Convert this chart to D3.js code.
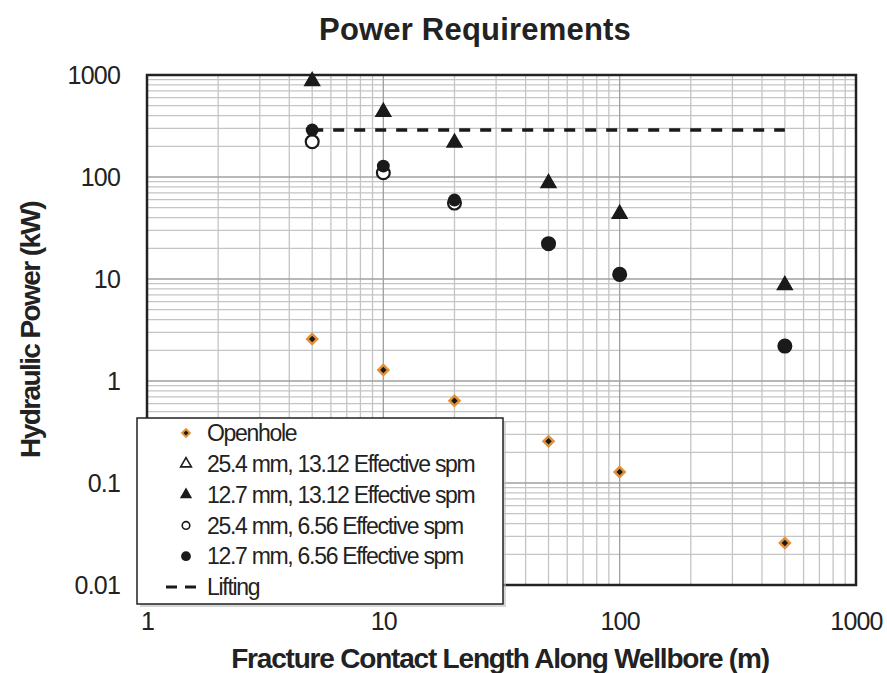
<!DOCTYPE html>
<html><head><meta charset="utf-8">
<script src="https://cdn.jsdelivr.net/npm/d3@7"></script>
<style>body{margin:0;background:#fff;} text{font-family:"Liberation Sans",Arial,sans-serif;}</style>
</head><body>
<svg id="c" width="887" height="673"></svg>
<script>
const lengths = [5, 10, 20, 50, 100, 500];
const openhole = [2.58, 1.28, 0.64, 0.257, 0.128, 0.0258];
const mm254_1312 = [870, 435, 217, 87, 43.5, 8.7];
const mm127_1312 = [870, 435, 217, 87, 43.5, 8.7];
const mm254_656 = [222, 110, 55.5, 22.2, 11.1, 2.2];
const mm127_656 = [289, 128, 59.5, 22.4, 11.1, 2.17];
const liftingX = [5, 500];
const liftingY = [289, 289];
const xTicks = [1, 10, 100, 1000];
const yTicks = [0.01, 0.1, 1, 10, 100, 1000];
const legendLabels = ["Openhole", "25.4 mm, 13.12 Effective spm", "12.7 mm, 13.12 Effective spm", "25.4 mm, 6.56 Effective spm", "12.7 mm, 6.56 Effective spm", "Lifting"];

const svg = d3.select("#c");
const L = 147, R = 856, T = 75, B = 585;
const x = d3.scaleLog().domain([1, 1000]).range([L, R]);
const y = d3.scaleLog().domain([0.01, 1000]).range([B, T]);

// grid
const g = svg.append("g");
const minorX = [], minorY = [];
for (let d = 1; d < 1000; d *= 10) for (let k = 2; k <= 9; k++) minorX.push(d * k);
for (let d = 0.01; d < 999; d *= 10) for (let k = 2; k <= 9; k++) minorY.push(d * k);
g.selectAll(".mx").data(minorX).join("line").attr("x1", d => x(d)).attr("x2", d => x(d)).attr("y1", T).attr("y2", B).attr("stroke", "#c4c4c4").attr("stroke-width", 1.3);
g.selectAll(".my").data(minorY).join("line").attr("y1", d => y(d)).attr("y2", d => y(d)).attr("x1", L).attr("x2", R).attr("stroke", "#c4c4c4").attr("stroke-width", 1.3);
g.selectAll(".Mx").data(xTicks.slice(1, -1)).join("line").attr("x1", d => x(d)).attr("x2", d => x(d)).attr("y1", T).attr("y2", B).attr("stroke", "#a0a0a0").attr("stroke-width", 1.3);
g.selectAll(".My").data(yTicks.slice(1, -1)).join("line").attr("y1", d => y(d)).attr("y2", d => y(d)).attr("x1", L).attr("x2", R).attr("stroke", "#a0a0a0").attr("stroke-width", 1.3);

// axes labels
const xa = svg.append("g").attr("transform", `translate(0,${B})`).call(d3.axisBottom(x).tickValues(xTicks).tickFormat(d3.format("d")).tickSize(0).tickPadding(27));
xa.select(".domain").remove();
xa.selectAll("text").attr("font-size", 25).attr("fill", "#222").attr("font-family", "Liberation Sans").attr("letter-spacing", -0.8);
const ya = svg.append("g").attr("transform", `translate(${L},0)`).call(d3.axisLeft(y).tickValues(yTicks).tickFormat(d => d >= 1 ? d3.format("d")(d) : String(d)).tickSize(0).tickPadding(27));
ya.select(".domain").remove();
ya.selectAll("text").attr("font-size", 25).attr("fill", "#222").attr("font-family", "Liberation Sans").attr("letter-spacing", -0.8);

// frame
svg.append("rect").attr("x", L).attr("y", T).attr("width", R - L).attr("height", B - T).attr("fill", "none").attr("stroke", "#222").attr("stroke-width", 2.5);

// lifting
svg.append("path").datum(liftingX.map((v, i) => [v, liftingY[i]]))
  .attr("d", d3.line().x(d => x(d[0])).y(d => y(d[1])))
  .attr("stroke", "#1a1a1a").attr("stroke-width", 3.6).attr("stroke-dasharray", "11,10").attr("fill", "none");

const data = (ys) => lengths.map((v, i) => [v, ys[i]]);
const tri = d3.symbol().type(d3.symbolTriangle).size(95);
const circ = d3.symbol().type(d3.symbolCircle).size(130);
const diam = d3.symbol().type(d3.symbolSquare).size(50);

svg.append("g").selectAll("path").data(data(mm254_1312)).join("path").attr("d", tri)
  .attr("transform", d => `translate(${x(d[0])},${y(d[1])})`).attr("fill", "#fff").attr("stroke", "#1a1a1a").attr("stroke-width", 1.5);
svg.append("g").selectAll("path").data(data(mm127_1312)).join("path").attr("d", tri)
  .attr("transform", d => `translate(${x(d[0])},${y(d[1])})`).attr("fill", "#1a1a1a");
svg.append("g").selectAll("path").data(data(mm254_656)).join("path").attr("d", circ)
  .attr("transform", d => `translate(${x(d[0])},${y(d[1])})`).attr("fill", "#fff").attr("stroke", "#1a1a1a").attr("stroke-width", 2.2);
svg.append("g").selectAll("path").data(data(mm127_656)).join("path").attr("d", circ)
  .attr("transform", d => `translate(${x(d[0])},${y(d[1])})`).attr("fill", "#1a1a1a");
svg.append("g").selectAll("path").data(data(openhole)).join("path").attr("d", diam)
  .attr("transform", d => `translate(${x(d[0])},${y(d[1])}) rotate(45)`).attr("fill", "#1a1a1a").attr("stroke", "#e0913a").attr("stroke-width", 2.5);

// legend
const lg = svg.append("g");
lg.append("rect").attr("x", 140).attr("y", 421).attr("width", 366).attr("height", 186).attr("fill", "#bbb").attr("opacity", 0.6);
lg.append("rect").attr("x", 137).attr("y", 418).attr("width", 366).attr("height", 186).attr("fill", "#fff").attr("stroke", "#222").attr("stroke-width", 1.5);
const ly = d3.scaleLinear().domain([0, 5]).range([433, 587]);
legendLabels.forEach((t, i) => {
  lg.append("text").attr("x", 207).attr("y", ly(i)).attr("dy", "0.36em").attr("font-size", 23).attr("letter-spacing", -1.3).attr("fill", "#222").text(t);
});
const sx = 186;
lg.append("path").attr("d", d3.symbol().type(d3.symbolSquare).size(30)).attr("transform", `translate(${sx},${ly(0)}) rotate(45)`).attr("fill", "#1a1a1a").attr("stroke", "#e0913a").attr("stroke-width", 2);
lg.append("path").attr("d", d3.symbol().type(d3.symbolTriangle).size(50)).attr("transform", `translate(${sx},${ly(1)})`).attr("fill", "#fff").attr("stroke", "#1a1a1a").attr("stroke-width", 1.6);
lg.append("path").attr("d", d3.symbol().type(d3.symbolTriangle).size(65)).attr("transform", `translate(${sx},${ly(2)})`).attr("fill", "#1a1a1a");
lg.append("path").attr("d", d3.symbol().type(d3.symbolCircle).size(45)).attr("transform", `translate(${sx},${ly(3)})`).attr("fill", "#fff").attr("stroke", "#1a1a1a").attr("stroke-width", 1.6);
lg.append("path").attr("d", d3.symbol().type(d3.symbolCircle).size(75)).attr("transform", `translate(${sx},${ly(4)})`).attr("fill", "#1a1a1a");
lg.append("line").attr("x1", 166).attr("x2", 200).attr("y1", ly(5)).attr("y2", ly(5)).attr("stroke", "#1a1a1a").attr("stroke-width", 3.2).attr("stroke-dasharray", "11,8");

// titles
svg.append("text").attr("x", 475).attr("y", 40).attr("text-anchor", "middle").attr("font-size", 31).attr("font-weight", "bold").attr("letter-spacing", 0.2).attr("fill", "#222").text("Power Requirements");
svg.append("text").attr("x", 500).attr("y", 668).attr("text-anchor", "middle").attr("font-size", 28).attr("font-weight", "bold").attr("letter-spacing", -1.2).attr("fill", "#222").text("Fracture Contact Length Along Wellbore (m)");
svg.append("text").attr("transform", "translate(40,330) rotate(-90)").attr("text-anchor", "middle").attr("font-size", 28).attr("font-weight", "bold").attr("letter-spacing", -1.6).attr("fill", "#222").text("Hydraulic Power (kW)");
</script>
</body></html>
